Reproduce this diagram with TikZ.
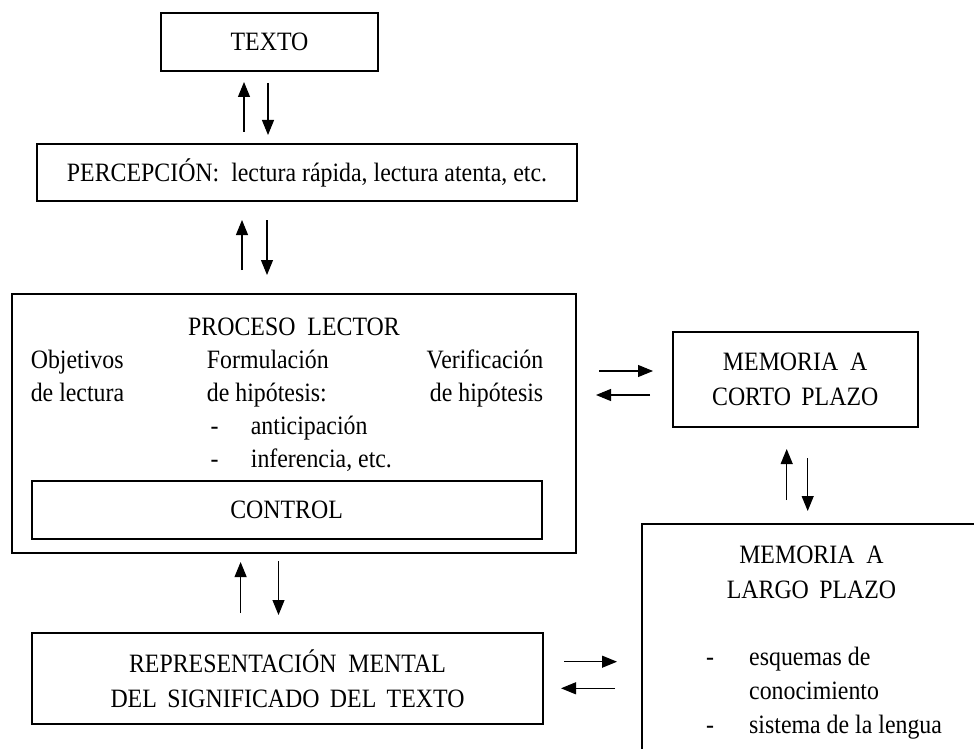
\documentclass[tikz,border=0pt]{standalone}
\usepackage{fontspec}
\setmainfont[FakeStretch=0.9]{Liberation Serif}
\usetikzlibrary{arrows.meta}
\begin{document}
\begin{tikzpicture}[x=1pt,y=-1pt,
  box/.style={draw, line width=2pt, inner sep=0pt, align=center,
    font=\fontsize{26.5}{35}\selectfont},
  txt/.style={inner sep=0pt, font=\fontsize{26.5}{35}\selectfont},
  arr/.style={line width=1.1pt, -{Triangle[length=15pt,width=12pt]}},
]
\useasboundingbox (0,0) rectangle (974,749);
\fill[white] (0,0) rectangle (974,749);
\clip (0,0) rectangle (974,749);

% boxes
\node[box, minimum width=217pt, minimum height=58pt] (texto) at (269.5,42) {TEXTO};
\node[box, minimum width=540pt, minimum height=57pt] (perc) at (307,172.5)
  {PERCEPCIÓN:\ \ lectura rápida, lectura atenta, etc.};
\node[box, minimum width=564pt, minimum height=259pt] (proceso) at (294,423.5) {};
\node[box, minimum width=510pt, minimum height=58pt] (control) at (286.6,510) {CONTROL};
\node[box, minimum width=245pt, minimum height=95pt] (corto) at (795.2,379.3)
  {MEMORIA\ \ A\\CORTO\ \,PLAZO};
\node[box, minimum width=340pt, minimum height=266pt] (largo) at (811.7,657) {};
\node[box, minimum width=511pt, minimum height=91pt] (repr) at (287.5,678.3)
  {REPRESENTACIÓN\ \ MENTAL\\DEL\ \,SIGNIFICADO\ \,DEL\ \,TEXTO};

% reading process contents
\node[txt, anchor=base] (pl) at (294,335) {PROCESO\ \ LECTOR};
\node[txt, anchor=base west] (obj1) at (30.6,368) {Objetivos};
\node[txt, anchor=base west] (obj2) at (30.6,401) {de lectura};
\node[txt, anchor=base west] (for1) at (206.7,368) {Formulación};
\node[txt, anchor=base west] (for2) at (206.7,401) {de hipótesis:};
\node[txt, anchor=base west] (d1) at (210.5,434) {-};
\node[txt, anchor=base west] (ant) at (250.7,434) {anticipación};
\node[txt, anchor=base west] (d2) at (210.5,467) {-};
\node[txt, anchor=base west] (inf) at (250.7,467) {inferencia, etc.};
\node[txt, anchor=base east] (ver1) at (543.4,368) {Verificación};
\node[txt, anchor=base east] (ver2) at (543.4,401) {de hipótesis};

% long-term memory contents
\node[txt, anchor=base] (ml1) at (811.5,563) {MEMORIA\ \ A};
\node[txt, anchor=base] (ml2) at (811.5,598) {LARGO\ \,PLAZO};
\node[txt, anchor=base west] (d3) at (706,665) {-};
\node[txt, anchor=base west] (esq) at (749,665) {esquemas de};
\node[txt, anchor=base west] (con) at (749,699) {conocimiento};
\node[txt, anchor=base west] (d4) at (706,733) {-};
\node[txt, anchor=base west] (sis) at (749,733) {sistema de la lengua};

% arrow end points
\coordinate (t1a) at (244,132);   \coordinate (t1b) at (244,82);
\coordinate (t2a) at (268,83);    \coordinate (t2b) at (268,135);
\coordinate (p1a) at (242,270);   \coordinate (p1b) at (242,220);
\coordinate (p2a) at (267,220);   \coordinate (p2b) at (267,275);
\coordinate (r1a) at (240.6,613); \coordinate (r1b) at (240.6,562);
\coordinate (r2a) at (278.5,561); \coordinate (r2b) at (278.5,615);
\coordinate (c1a) at (599,371);   \coordinate (c1b) at (653,371);
\coordinate (c2a) at (650,395);   \coordinate (c2b) at (596,395);
\coordinate (m1a) at (786.7,500); \coordinate (m1b) at (786.7,449);
\coordinate (m2a) at (807.7,458); \coordinate (m2b) at (807.7,511);
\coordinate (l1a) at (564,661.7); \coordinate (l1b) at (617,661.7);
\coordinate (l2a) at (615,688.3); \coordinate (l2b) at (561,688.3);

% connectors
\draw[arr] (t1a) -- (t1b);
\draw[arr] (t2a) -- (t2b);
\draw[arr] (p1a) -- (p1b);
\draw[arr] (p2a) -- (p2b);
\draw[arr] (r1a) -- (r1b);
\draw[arr] (r2a) -- (r2b);
\draw[arr] (c1a) -- (c1b);
\draw[arr] (c2a) -- (c2b);
\draw[arr] (m1a) -- (m1b);
\draw[arr] (m2a) -- (m2b);
\draw[arr] (l1a) -- (l1b);
\draw[arr] (l2a) -- (l2b);
\end{tikzpicture}
\end{document}
